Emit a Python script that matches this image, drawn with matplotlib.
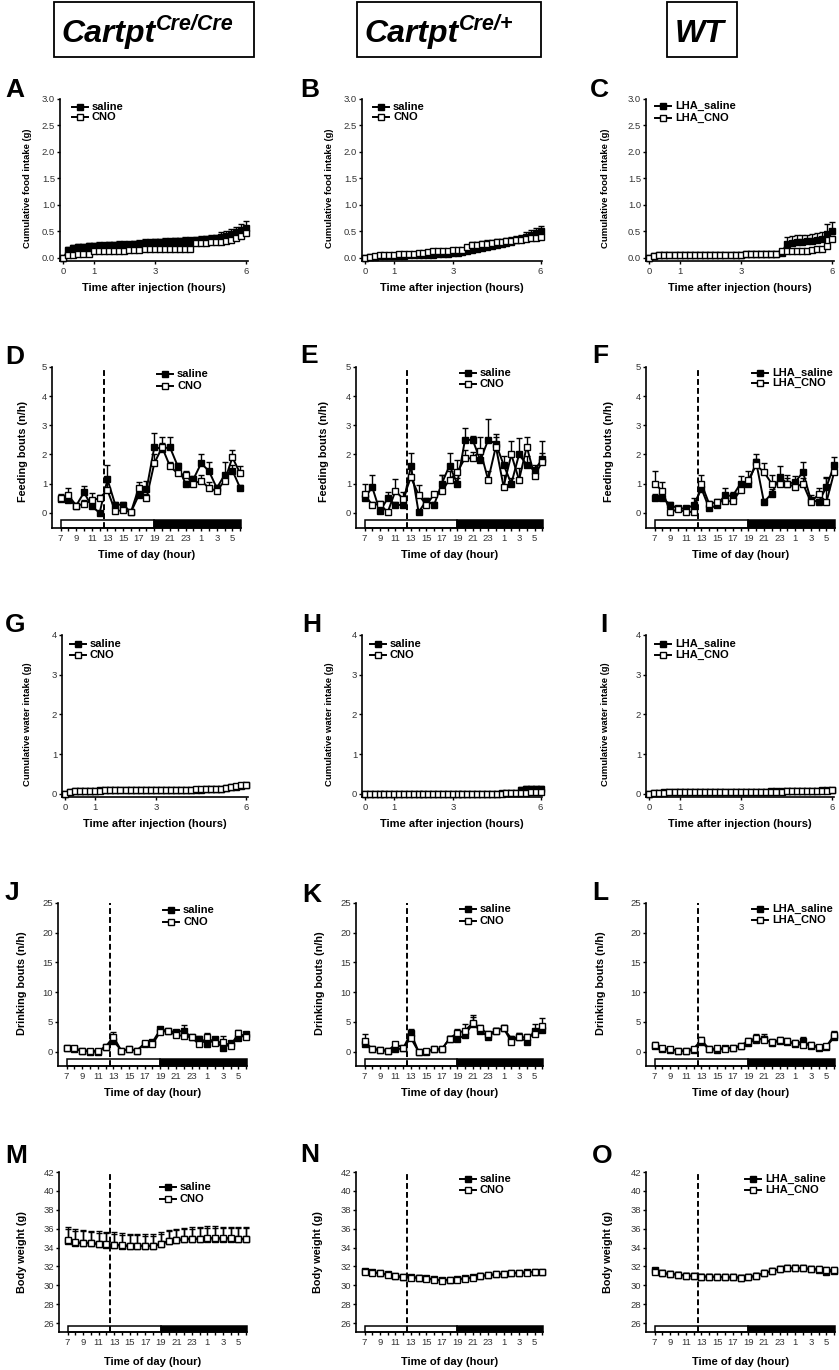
import numpy as np
import matplotlib
matplotlib.use('Agg')
import matplotlib.pyplot as plt
from matplotlib.patches import Rectangle
from matplotlib.lines import Line2D

plt.rcParams['font.family'] = ['Liberation Sans', 'DejaVu Sans']

# ---------------- data ----------------
cum_minutes = list(range(0, 361, 10))          # sampling grid, 0..6 h
hours = list(range(7, 31))                     # 7:00 .. 6:00 next day
hour_ticks = list(range(7, 31))
hour_labels = ['7', '', '9', '', '11', '', '13', '', '15', '', '17', '', '19', '',
               '21', '', '23', '', '1', '', '3', '', '5', '']

A_sal = [0, 0.15, 0.18, 0.20, 0.21, 0.22, 0.22, 0.23, 0.23, 0.24, 0.24, 0.25, 0.25, 0.25, 0.26, 0.27,
         0.28, 0.28, 0.29, 0.29, 0.30, 0.30, 0.31, 0.31, 0.32, 0.32, 0.33, 0.34, 0.35, 0.36, 0.37,
         0.40, 0.42, 0.45, 0.48, 0.52, 0.56]
A_sal_err = [0, 0.06, 0.06, 0.06, 0.06, 0.06, 0.06, 0.06, 0.06, 0.06, 0.06, 0.06, 0.06, 0.06, 0.06, 0.06,
             0.07, 0.07, 0.07, 0.07, 0.07, 0.07, 0.07, 0.07, 0.07, 0.07, 0.07, 0.07, 0.07, 0.07, 0.07,
             0.08, 0.08, 0.09, 0.10, 0.11, 0.13]
A_cno = [0, 0.05, 0.06, 0.07, 0.07, 0.07, 0.13, 0.13, 0.13, 0.13, 0.13, 0.13, 0.13, 0.14, 0.14, 0.14,
         0.16, 0.16, 0.16, 0.16, 0.16, 0.17, 0.17, 0.17, 0.17, 0.17, 0.28, 0.28, 0.28, 0.29, 0.30,
         0.30, 0.31, 0.33, 0.37, 0.42, 0.47]
A_cno_err = [0, 0.07, 0.08, 0.08, 0.08, 0.08, 0.08, 0.08, 0.08, 0.08, 0.08, 0.08, 0.08, 0.08, 0.08, 0.08,
             0.08, 0.08, 0.08, 0.08, 0.08, 0.08, 0.08, 0.08, 0.08, 0.08, 0.08, 0.08, 0.08, 0.08, 0.08,
             0.08, 0.08, 0.08, 0.08, 0.09, 0.09]

B_sal = [0, 0.01, 0.02, 0.03, 0.03, 0.04, 0.04, 0.04, 0.04, 0.05, 0.05, 0.05, 0.05, 0.06, 0.06, 0.07,
         0.07, 0.08, 0.09, 0.10, 0.11, 0.13, 0.15, 0.17, 0.19, 0.20, 0.22, 0.24, 0.26, 0.28, 0.30,
         0.33, 0.36, 0.40, 0.43, 0.46, 0.50]
B_sal_err = [0, 0.01, 0.01, 0.02, 0.02, 0.02, 0.02, 0.02, 0.02, 0.02, 0.02, 0.02, 0.03, 0.03, 0.03, 0.03,
             0.03, 0.03, 0.04, 0.04, 0.04, 0.05, 0.05, 0.05, 0.06, 0.06, 0.06, 0.06, 0.07, 0.07, 0.07,
             0.08, 0.08, 0.08, 0.09, 0.10, 0.10]
B_cno = [0, 0.02, 0.04, 0.05, 0.06, 0.06, 0.06, 0.07, 0.07, 0.07, 0.08, 0.09, 0.10, 0.11, 0.12, 0.12,
         0.13, 0.13, 0.14, 0.14, 0.15, 0.20, 0.24, 0.25, 0.26, 0.27, 0.28, 0.29, 0.30, 0.31, 0.32,
         0.33, 0.34, 0.36, 0.37, 0.38, 0.40]
B_cno_err = [0, 0.01, 0.02, 0.02, 0.02, 0.02, 0.02, 0.02, 0.02, 0.03, 0.03, 0.03, 0.03, 0.03, 0.03, 0.03,
             0.04, 0.04, 0.04, 0.04, 0.04, 0.05, 0.05, 0.05, 0.05, 0.06, 0.06, 0.06, 0.06, 0.07, 0.07,
             0.07, 0.08, 0.08, 0.09, 0.10, 0.10]

C_sal = [0, 0.04, 0.06, 0.06, 0.06, 0.06, 0.06, 0.06, 0.06, 0.06, 0.06, 0.06, 0.06, 0.06, 0.06, 0.06,
         0.06, 0.06, 0.06, 0.08, 0.08, 0.08, 0.08, 0.08, 0.08, 0.08, 0.10, 0.27, 0.28, 0.30, 0.30,
         0.31, 0.32, 0.33, 0.35, 0.45, 0.50]
C_sal_err = [0, 0.01, 0.01, 0.01, 0.01, 0.01, 0.01, 0.01, 0.01, 0.01, 0.01, 0.01, 0.01, 0.01, 0.01, 0.01,
             0.01, 0.01, 0.01, 0.02, 0.02, 0.02, 0.02, 0.02, 0.02, 0.02, 0.03, 0.12, 0.13, 0.13, 0.13,
             0.13, 0.13, 0.13, 0.13, 0.18, 0.18]
C_cno = [0, 0.03, 0.06, 0.06, 0.06, 0.06, 0.06, 0.06, 0.06, 0.06, 0.06, 0.06, 0.06, 0.06, 0.06, 0.06,
         0.06, 0.06, 0.06, 0.08, 0.08, 0.08, 0.08, 0.08, 0.08, 0.08, 0.12, 0.12, 0.12, 0.12, 0.12,
         0.12, 0.14, 0.16, 0.17, 0.22, 0.35]
C_cno_err = [0, 0.01, 0.01, 0.01, 0.01, 0.01, 0.01, 0.01, 0.01, 0.01, 0.01, 0.01, 0.01, 0.01, 0.01, 0.01,
             0.01, 0.01, 0.01, 0.01, 0.01, 0.01, 0.01, 0.01, 0.01, 0.01, 0.02, 0.02, 0.02, 0.02, 0.02,
             0.02, 0.03, 0.03, 0.04, 0.05, 0.06]

G_sal = [0, 0.05, 0.06, 0.07, 0.08, 0.08, 0.08, 0.09, 0.09, 0.09, 0.09, 0.09, 0.09, 0.09, 0.09, 0.09,
         0.09, 0.09, 0.09, 0.10, 0.10, 0.10, 0.10, 0.10, 0.10, 0.10, 0.10, 0.10, 0.11, 0.11, 0.12,
         0.13, 0.14, 0.16, 0.18, 0.20, 0.22]
G_sal_err = [0, 0.02, 0.02, 0.02, 0.02, 0.02, 0.02, 0.02, 0.02, 0.02, 0.02, 0.02, 0.02, 0.02, 0.02, 0.02,
             0.02, 0.02, 0.02, 0.02, 0.02, 0.02, 0.02, 0.02, 0.02, 0.02, 0.02, 0.02, 0.03, 0.03, 0.03,
             0.03, 0.03, 0.04, 0.04, 0.05, 0.06]
G_cno = [0, 0.04, 0.06, 0.07, 0.07, 0.08, 0.08, 0.08, 0.09, 0.09, 0.09, 0.09, 0.09, 0.09, 0.09, 0.09,
         0.09, 0.09, 0.10, 0.10, 0.10, 0.10, 0.10, 0.10, 0.10, 0.10, 0.11, 0.11, 0.11, 0.12, 0.12,
         0.13, 0.15, 0.17, 0.19, 0.21, 0.23]
G_cno_err = [0, 0.02, 0.02, 0.02, 0.02, 0.02, 0.02, 0.02, 0.02, 0.02, 0.02, 0.02, 0.02, 0.02, 0.02, 0.02,
             0.02, 0.02, 0.02, 0.02, 0.02, 0.02, 0.02, 0.02, 0.02, 0.02, 0.02, 0.02, 0.02, 0.03, 0.03,
             0.03, 0.03, 0.03, 0.04, 0.04, 0.05]

H_sal = [0, 0, 0, 0, 0, 0, 0, 0, 0, 0, 0, 0, 0, 0, 0, 0,
         0, 0, 0, 0, 0, 0, 0, 0, 0, 0, 0, 0, 0.01, 0.01, 0.01,
         0.02, 0.10, 0.12, 0.12, 0.12, 0.12]
H_sal_err = [0, 0, 0, 0, 0, 0, 0, 0, 0, 0, 0, 0, 0, 0, 0, 0,
             0, 0, 0, 0, 0, 0, 0, 0, 0, 0, 0, 0, 0.01, 0.01, 0.01,
             0.01, 0.06, 0.07, 0.07, 0.07, 0.07]
H_cno = [0, 0, 0, 0, 0, 0, 0, 0, 0, 0, 0, 0, 0, 0, 0, 0,
         0, 0, 0, 0, 0, 0, 0, 0, 0, 0, 0, 0, 0, 0.01, 0.01,
         0.01, 0.02, 0.03, 0.04, 0.05, 0.05]
H_cno_err = [0, 0, 0, 0, 0, 0, 0, 0, 0, 0, 0, 0, 0, 0, 0, 0,
             0, 0, 0, 0, 0, 0, 0, 0, 0, 0, 0, 0, 0, 0.01, 0.01,
             0.01, 0.01, 0.02, 0.02, 0.03, 0.03]

I_sal = [0, 0.02, 0.03, 0.04, 0.04, 0.04, 0.05, 0.05, 0.05, 0.05, 0.05, 0.05, 0.05, 0.05, 0.05, 0.05,
         0.05, 0.05, 0.05, 0.05, 0.05, 0.05, 0.05, 0.05, 0.06, 0.06, 0.06, 0.06, 0.06, 0.07, 0.07,
         0.07, 0.08, 0.08, 0.09, 0.09, 0.10]
I_sal_err = [0, 0.01, 0.01, 0.01, 0.01, 0.01, 0.01, 0.01, 0.01, 0.01, 0.01, 0.01, 0.01, 0.01, 0.01, 0.01,
             0.01, 0.01, 0.01, 0.01, 0.01, 0.01, 0.01, 0.01, 0.02, 0.02, 0.02, 0.02, 0.02, 0.02, 0.02,
             0.02, 0.03, 0.03, 0.03, 0.04, 0.05]
I_cno = [0, 0.02, 0.03, 0.03, 0.04, 0.04, 0.04, 0.04, 0.04, 0.04, 0.05, 0.05, 0.05, 0.05, 0.05, 0.05,
         0.05, 0.05, 0.05, 0.05, 0.05, 0.05, 0.05, 0.05, 0.05, 0.05, 0.05, 0.06, 0.06, 0.06, 0.06,
         0.06, 0.07, 0.07, 0.08, 0.08, 0.09]
I_cno_err = [0, 0.01, 0.01, 0.01, 0.01, 0.01, 0.01, 0.01, 0.01, 0.01, 0.01, 0.01, 0.01, 0.01, 0.01, 0.01,
             0.01, 0.01, 0.01, 0.01, 0.01, 0.01, 0.01, 0.01, 0.01, 0.01, 0.01, 0.02, 0.02, 0.02, 0.02,
             0.02, 0.02, 0.02, 0.03, 0.03, 0.04]

D_sal = [0.48, 0.45, 0.25, 0.70, 0.22, 0.00, 1.15, 0.28, 0.28, 0.02, 0.60, 0.80,
         2.25, 2.20, 2.25, 1.60, 1.00, 1.15, 1.70, 1.43, 0.85, 1.30, 1.45, 0.85]
D_sal_err = [0.15, 0.10, 0.05, 0.22, 0.15, 0.05, 0.50, 0.10, 0.08, 0.05, 0.15, 0.30,
             0.50, 0.20, 0.35, 0.10, 0.10, 0.10, 0.30, 0.32, 0.10, 0.45, 0.20, 0.10]
D_cno = [0.50, 0.60, 0.25, 0.30, 0.43, 0.50, 0.78, 0.05, 0.10, 0.02, 0.85, 0.50,
         1.70, 2.25, 1.60, 1.35, 1.30, 1.00, 1.10, 0.85, 0.75, 1.10, 1.90, 1.35]
D_cno_err = [0.12, 0.25, 0.08, 0.15, 0.25, 0.12, 0.30, 0.05, 0.05, 0.02, 0.20, 0.15,
             0.30, 0.35, 0.15, 0.10, 0.15, 0.10, 0.20, 0.20, 0.10, 0.20, 0.25, 0.25]

E_sal = [0.50, 0.88, 0.05, 0.50, 0.27, 0.27, 1.62, 0.02, 0.42, 0.27, 1.00, 1.62,
         1.00, 2.50, 2.50, 1.80, 2.50, 2.37, 1.65, 1.00, 2.00, 1.65, 1.45, 1.85]
E_sal_err = [0.20, 0.40, 0.05, 0.20, 0.10, 0.10, 0.43, 0.05, 0.10, 0.10, 0.30, 0.43,
             0.20, 0.40, 0.15, 0.30, 0.70, 0.33, 0.30, 0.20, 0.55, 0.30, 0.20, 0.60]
E_cno = [0.63, 0.27, 0.30, 0.02, 0.75, 0.48, 1.22, 0.62, 0.27, 0.63, 0.75, 1.13,
         1.40, 1.87, 1.87, 2.13, 1.13, 2.27, 0.90, 2.00, 1.13, 2.27, 1.27, 1.75]
E_cno_err = [0.37, 0.10, 0.10, 0.05, 0.40, 0.22, 0.30, 0.33, 0.10, 0.10, 0.55, 0.30,
             0.40, 0.30, 0.20, 0.47, 0.30, 0.33, 0.40, 0.45, 0.40, 0.33, 0.30, 0.30]

F_sal = [0.50, 0.50, 0.28, 0.15, 0.15, 0.26, 0.83, 0.15, 0.26, 0.60, 0.58, 1.00,
         1.00, 1.74, 0.37, 0.66, 1.23, 1.00, 1.05, 1.40, 0.45, 0.37, 0.88, 1.65]
F_sal_err = [0.15, 0.15, 0.10, 0.05, 0.05, 0.24, 0.20, 0.05, 0.10, 0.25, 0.15, 0.25,
             0.20, 0.26, 0.10, 0.15, 0.37, 0.20, 0.20, 0.33, 0.15, 0.10, 0.30, 0.25]
F_cno = [1.00, 0.75, 0.03, 0.12, 0.03, 0.03, 1.00, 0.30, 0.38, 0.40, 0.40, 0.77,
         1.13, 1.63, 1.40, 1.00, 1.00, 1.00, 0.88, 1.00, 0.37, 0.63, 0.37, 1.40]
F_cno_err = [0.45, 0.30, 0.05, 0.05, 0.05, 0.05, 0.30, 0.10, 0.10, 0.10, 0.15, 0.20,
             0.32, 0.20, 0.30, 0.30, 0.30, 0.30, 0.20, 0.20, 0.15, 0.22, 0.85, 0.20]

J_sal = [0.55, 0.40, 0.20, 0.00, 0.00, 0.85, 1.85, 0.20, 0.40, 0.20, 1.30, 1.60,
         3.75, 3.50, 3.30, 3.55, 2.40, 2.20, 1.25, 2.10, 0.55, 1.40, 2.25, 2.95]
J_sal_err = [0.3, 0.3, 0.1, 0.1, 0.1, 0.3, 0.6, 0.1, 0.1, 0.1, 0.3, 0.3,
             0.4, 0.3, 0.4, 0.95, 0.4, 0.4, 0.3, 0.4, 0.3, 0.4, 0.4, 0.4]
J_cno = [0.55, 0.55, 0.20, 0.20, 0.10, 0.85, 2.50, 0.20, 0.40, 0.20, 1.40, 1.30,
         3.35, 3.50, 2.80, 2.65, 2.40, 1.25, 2.40, 1.50, 1.70, 1.00, 3.10, 2.50]
J_cno_err = [0.45, 0.3, 0.1, 0.1, 0.1, 0.3, 0.8, 0.1, 0.1, 0.1, 0.3, 0.3,
             0.55, 0.3, 0.4, 0.4, 0.4, 0.3, 0.7, 0.4, 0.9, 0.3, 0.5, 0.4]

K_sal = [1.25, 0.40, 0.35, 0.10, 0.40, 0.55, 3.15, 0.00, 0.00, 0.40, 0.40, 2.20,
         2.10, 2.80, 4.70, 3.55, 2.50, 3.55, 3.95, 2.20, 2.50, 1.70, 3.55, 3.65]
K_sal_err = [0.5, 0.2, 0.2, 0.1, 0.3, 0.3, 0.6, 0.05, 0.05, 0.2, 0.2, 0.4,
             0.5, 0.6, 1.5, 0.5, 0.5, 0.5, 0.5, 0.5, 0.6, 0.5, 1.05, 0.8]
K_cno = [1.85, 0.40, 0.35, 0.10, 1.25, 0.70, 2.30, 0.00, 0.10, 0.40, 0.40, 2.20,
         3.15, 3.55, 4.80, 3.95, 2.95, 3.55, 3.95, 1.70, 2.50, 2.40, 2.95, 4.40]
K_cno_err = [1.15, 0.2, 0.2, 0.1, 0.4, 0.3, 0.5, 0.05, 0.1, 0.2, 0.2, 0.5,
             0.6, 1.05, 1.0, 0.5, 0.6, 0.5, 0.4, 0.5, 0.6, 0.6, 0.7, 1.3]

L_sal = [1.0, 0.5, 0.3, 0.2, 0.1, 0.3, 1.6, 0.4, 0.3, 0.6, 0.6, 0.9,
         1.5, 2.0, 2.2, 1.5, 1.8, 1.6, 1.3, 1.8, 1.0, 0.7, 0.8, 2.5]
L_sal_err = [0.3, 0.2, 0.1, 0.1, 0.1, 0.2, 0.5, 0.2, 0.2, 0.3, 0.3, 0.3,
             0.5, 0.6, 0.8, 0.5, 0.5, 0.5, 0.5, 0.6, 0.4, 0.3, 0.4, 0.8]
L_cno = [1.2, 0.6, 0.4, 0.2, 0.2, 0.5, 2.0, 0.4, 0.6, 0.5, 0.7, 1.0,
         1.8, 2.3, 2.0, 1.6, 2.0, 1.8, 1.4, 1.1, 1.2, 0.8, 0.9, 2.8]
L_cno_err = [0.4, 0.2, 0.1, 0.1, 0.1, 0.2, 0.5, 0.2, 0.2, 0.2, 0.3, 0.3,
             0.5, 0.6, 0.6, 0.5, 0.5, 0.5, 0.5, 0.4, 0.4, 0.3, 0.4, 0.7]

M_sal = [34.70, 34.50, 34.45, 34.45, 34.35, 34.30, 34.25, 34.20, 34.15, 34.15, 34.15, 34.15,
         34.35, 34.65, 34.75, 34.85, 34.90, 34.90, 34.95, 34.95, 34.95, 34.95, 34.90, 34.85]
M_sal_err = [1.25, 1.25, 1.25, 1.2, 1.2, 1.2, 1.2, 1.15, 1.15, 1.15, 1.1, 1.1,
             1.1, 1.1, 1.1, 1.1, 1.1, 1.15, 1.15, 1.15, 1.1, 1.1, 1.15, 1.2]
M_cno = [34.78, 34.56, 34.50, 34.50, 34.40, 34.35, 34.30, 34.25, 34.20, 34.20, 34.20, 34.20,
         34.40, 34.70, 34.80, 34.90, 34.95, 34.95, 35.00, 35.00, 34.98, 35.00, 34.95, 34.90]
M_cno_err = [1.35, 1.35, 1.35, 1.3, 1.3, 1.3, 1.3, 1.25, 1.25, 1.25, 1.2, 1.2,
             1.2, 1.2, 1.2, 1.2, 1.2, 1.25, 1.25, 1.25, 1.2, 1.2, 1.25, 1.3]

N_sal = [31.50, 31.40, 31.28, 31.15, 31.00, 30.90, 30.85, 30.82, 30.72, 30.62, 30.52, 30.58,
         30.65, 30.75, 30.85, 31.00, 31.08, 31.18, 31.22, 31.28, 31.32, 31.38, 31.42, 31.45]
N_sal_err = [0.2, 0.2, 0.2, 0.2, 0.2, 0.2, 0.2, 0.2, 0.2, 0.2, 0.2, 0.2,
             0.2, 0.2, 0.2, 0.2, 0.2, 0.2, 0.2, 0.2, 0.2, 0.2, 0.2, 0.2]
N_cno = [31.45, 31.35, 31.25, 31.10, 30.95, 30.85, 30.80, 30.80, 30.70, 30.60, 30.50, 30.55,
         30.60, 30.70, 30.80, 31.00, 31.05, 31.15, 31.20, 31.25, 31.30, 31.35, 31.40, 31.40]
N_cno_err = [0.25, 0.25, 0.25, 0.25, 0.25, 0.25, 0.25, 0.25, 0.25, 0.25, 0.25, 0.25,
             0.25, 0.25, 0.25, 0.25, 0.25, 0.25, 0.25, 0.25, 0.25, 0.25, 0.25, 0.25]

O_sal = [31.62, 31.30, 31.20, 31.12, 31.02, 30.98, 30.92, 30.90, 30.88, 30.84, 30.84, 30.82,
         30.84, 31.00, 31.25, 31.50, 31.70, 31.80, 31.85, 31.78, 31.72, 31.62, 31.45, 31.50]
O_sal_err = [0.25, 0.25, 0.25, 0.25, 0.25, 0.25, 0.25, 0.25, 0.25, 0.25, 0.25, 0.25,
             0.25, 0.25, 0.25, 0.25, 0.25, 0.25, 0.25, 0.25, 0.25, 0.25, 0.25, 0.25]
O_cno = [31.45, 31.27, 31.20, 31.13, 31.03, 31.00, 30.92, 30.92, 30.90, 30.85, 30.85, 30.82,
         30.85, 31.03, 31.27, 31.52, 31.70, 31.80, 31.87, 31.80, 31.77, 31.70, 31.63, 31.63]
O_cno_err = [0.3, 0.3, 0.3, 0.3, 0.3, 0.3, 0.3, 0.3, 0.3, 0.3, 0.3, 0.3,
             0.3, 0.3, 0.3, 0.3, 0.3, 0.3, 0.3, 0.3, 0.3, 0.3, 0.3, 0.3]

labels_std = ['saline', 'CNO']
labels_wt = ['LHA_saline', 'LHA_CNO']

# ---------------- figure helpers ----------------
W, H = 839, 1370
fig = plt.figure(figsize=(W / 100, H / 100), dpi=100)


def fx(x):
    return x / W


def fy(y):
    return 1 - y / H


def px_axes(l, t, r, b):
    return fig.add_axes([l / W, 1 - b / H, (r - l) / W, (b - t) / H])


def style(ax):
    for s in ['top', 'right']:
        ax.spines[s].set_visible(False)
    for s in ['left', 'bottom']:
        ax.spines[s].set_linewidth(1.2)
    ax.tick_params(axis='both', length=2.5, width=1.0, labelsize=6.8,
                   labelcolor='#333333', pad=1.0)
    ax.tick_params(axis='x', pad=1.5)
    ax.patch.set_alpha(0)


def series(ax, x, y, e, filled, ms, lw=1.4):
    fc = 'black' if filled else 'white'
    e = np.asarray(e, dtype=float)
    ax.errorbar(x, y, yerr=[np.zeros(len(e)), e], fmt='none', ecolor='black',
                elinewidth=1.0, capsize=ms * 0.5, capthick=1.0, clip_on=False, zorder=3)
    ax.plot(x, y, '-', color='black', lw=lw, marker='s', ms=ms, mfc=fc, mec='black',
            mew=1.0, clip_on=False, zorder=4)


def legend(x0, ys, labels, ms):
    for y, lab, filled in zip(ys, labels, [True, False]):
        fig.add_artist(Line2D([fx(x0), fx(x0 + 16)], [fy(y), fy(y)], color='black', lw=1.4))
        fig.add_artist(Line2D([fx(x0 + 8)], [fy(y)], marker='s', ms=ms,
                              mfc='black' if filled else 'white', mec='black', mew=1.0))
        fig.text(fx(x0 + 20), fy(y), lab, fontsize=8, fontweight='bold', va='center', ha='left')


def ylab(x, y, text, size):
    fig.text(fx(x), fy(y), text, rotation=90, ha='center', va='center',
             fontsize=size, fontweight='bold')


def xlab(x, y, text):
    fig.text(fx(x), fy(y), text, ha='center', va='center', fontsize=8, fontweight='bold')


def letter(x, y, ch):
    fig.text(fx(x), fy(y), ch, fontsize=19, fontweight='bold', ha='left', va='baseline')


cum_x = [m / 60 for m in cum_minutes]


def cum_panel(box, ylim, yticks, fmt, sal, sal_e, cno, cno_e, labels, leg_x, leg_y,
              ylabel, ylx, yly, xly):
    l, t, r, b = box
    ax = px_axes(l, t, r, b)
    style(ax)
    ax.set_xlim(-0.1, 6.05)
    ax.set_ylim(*ylim)
    ax.set_xticks([0, 1, 3, 6])
    ax.set_xticklabels(['0', '1', '3', '6'])
    ax.set_yticks(yticks)
    ax.set_yticklabels([fmt % v for v in yticks])
    series(ax, cum_x, sal, sal_e, True, 3.8, lw=1.2)
    series(ax, cum_x, cno, cno_e, False, 3.8, lw=1.2)
    legend(leg_x, leg_y, labels, 4.0)
    ylab(ylx, yly, ylabel, 6.8)
    xlab((l + r) / 2, xly, 'Time after injection (hours)')
    return ax


def tod_panel(box, ylim, yticks, bar_top, sal, sal_e, cno, cno_e, labels, leg_x, leg_y,
              ylabel, ylx, yly, xly, ms):
    l, t, r, b = box
    ax = px_axes(l, t, r, b)
    style(ax)
    x0, x1 = 5.9, 30.1
    ax.set_xlim(x0, x1)
    ax.set_ylim(*ylim)
    ax.set_xticks(hour_ticks)
    ax.set_xticklabels(hour_labels)
    ax.set_yticks(yticks)
    ax.set_yticklabels([str(v) for v in yticks])
    yb = ylim[0]
    ax.add_patch(Rectangle((7, yb), 12, bar_top - yb, facecolor='white', edgecolor='black',
                           lw=1.1, zorder=2, clip_on=False))
    ax.add_patch(Rectangle((19, yb), x1 - 19, bar_top - yb, facecolor='black', edgecolor='black',
                           lw=1.1, zorder=2, clip_on=False))
    ax.plot([12.5, 12.5], [yb, ylim[1]], color='black', lw=1.4, ls=(0, (3, 1.6)), zorder=2.5)
    series(ax, hours, sal, sal_e, True, ms)
    series(ax, hours, cno, cno_e, False, ms)
    legend(leg_x, leg_y, labels, 4.4)
    ylab(ylx, yly, ylabel, 7.8)
    xlab((l + r) / 2, xly, 'Time of day (hour)')
    return ax


# ---------------- headers ----------------
renderer = fig.canvas.get_renderer()


def header(box, x, main, sup):
    l, t, r, b = box
    fig.add_artist(Rectangle((fx(l), fy(b)), (r - l) / W, (b - t) / H, transform=fig.transFigure,
                             facecolor='none', edgecolor='black', lw=1.3))
    t1 = fig.text(fx(x), fy(42), main, fontsize=23, fontweight='bold', fontstyle='italic',
                  ha='left', va='baseline')
    if sup:
        bb = t1.get_window_extent(renderer)
        fig.text(bb.x1 / W + 1 / W, fy(30), sup, fontsize=15.5, fontweight='bold',
                 fontstyle='italic', ha='left', va='baseline')


header((54, 2, 254, 57), 61, 'Cartpt', 'Cre/Cre')
header((357, 2, 541, 57), 364, 'Cartpt', 'Cre/+')
header((667, 2, 737, 57), 675, 'WT', None)

# ---------------- row 1: cumulative food ----------------
food_ticks = [0.0, 0.5, 1.0, 1.5, 2.0, 2.5, 3.0]
cum_panel((60, 99, 248, 261), (-0.06, 3.0), food_ticks, '%.1f', A_sal, A_sal_err, A_cno, A_cno_err,
          labels_std, 72, (107, 117), 'Cumulative food intake (g)', 28, 188, 288)
cum_panel((362, 99, 542, 261), (-0.06, 3.0), food_ticks, '%.1f', B_sal, B_sal_err, B_cno, B_cno_err,
          labels_std, 373, (107, 117), 'Cumulative food intake (g)', 330, 188, 288)
cum_panel((646, 99, 834, 261), (-0.06, 3.0), food_ticks, '%.1f', C_sal, C_sal_err, C_cno, C_cno_err,
          labels_wt, 655, (106, 118), 'Cumulative food intake (g)', 605, 188, 288)
letter(5, 97, 'A')
letter(300, 97, 'B')
letter(590, 97, 'C')

# ---------------- row 2: feeding bouts ----------------
fb_ticks = [0, 1, 2, 3, 4, 5]
tod_panel((52, 367, 241, 528), (-0.52, 5), fb_ticks, -0.24, D_sal, D_sal_err, D_cno, D_cno_err,
          labels_std, 157, (374, 386), 'Feeding bouts (n/h)', 23, 452, 555, 4.4)
tod_panel((356, 367, 543, 528), (-0.52, 5), fb_ticks, -0.24, E_sal, E_sal_err, E_cno, E_cno_err,
          labels_std, 460, (373, 384), 'Feeding bouts (n/h)', 324, 452, 555, 4.4)
tod_panel((646, 367, 835, 528), (-0.52, 5), fb_ticks, -0.24, F_sal, F_sal_err, F_cno, F_cno_err,
          labels_wt, 752, (373, 383), 'Feeding bouts (n/h)', 609, 452, 555, 4.4)
letter(5, 364, 'D')
letter(300, 363, 'E')
letter(592, 363, 'F')

# ---------------- row 3: cumulative water ----------------
water_ticks = [0, 1, 2, 3, 4]
cum_panel((62, 635, 248, 797), (-0.08, 4.0), water_ticks, '%d', G_sal, G_sal_err, G_cno, G_cno_err,
          labels_std, 70, (644, 655), 'Cumulative water intake (g)', 28, 724, 824)
cum_panel((362, 635, 542, 797), (-0.08, 4.0), water_ticks, '%d', H_sal, H_sal_err, H_cno, H_cno_err,
          labels_std, 370, (644, 655), 'Cumulative water intake (g)', 330, 724, 824)
cum_panel((646, 635, 834, 797), (-0.08, 4.0), water_ticks, '%d', I_sal, I_sal_err, I_cno, I_cno_err,
          labels_wt, 655, (644, 655), 'Cumulative water intake (g)', 605, 724, 824)
letter(5, 632, 'G')
letter(302, 632, 'H')
letter(600, 632, 'I')

# ---------------- row 4: drinking bouts ----------------
db_ticks = [0, 5, 10, 15, 20, 25]
tod_panel((58, 903, 247, 1066), (-2.4, 25), db_ticks, -1.2, J_sal, J_sal_err, J_cno, J_cno_err,
          labels_std, 163, (910, 922), 'Drinking bouts (n/h)', 22, 983, 1093, 4.4)
tod_panel((356, 903, 543, 1066), (-2.4, 25), db_ticks, -1.2, K_sal, K_sal_err, K_cno, K_cno_err,
          labels_std, 460, (909, 921), 'Drinking bouts (n/h)', 320, 983, 1093, 4.4)
tod_panel((646, 903, 835, 1066), (-2.4, 25), db_ticks, -1.2, L_sal, L_sal_err, L_cno, L_cno_err,
          labels_wt, 752, (909, 920), 'Drinking bouts (n/h)', 601, 983, 1093, 4.4)
letter(5, 900, 'J')
letter(302, 902, 'K')
letter(592, 900, 'L')

# ---------------- row 5: body weight ----------------
bw_ticks = [26, 28, 30, 32, 34, 36, 38, 40, 42]
tod_panel((59, 1172, 247, 1332), (25.05, 42), bw_ticks, 25.7, M_sal, M_sal_err, M_cno, M_cno_err,
          labels_std, 160, (1187, 1199), 'Body weight (g)', 22, 1252, 1362, 5.0)
tod_panel((356, 1172, 543, 1332), (25.05, 42), bw_ticks, 25.7, N_sal, N_sal_err, N_cno, N_cno_err,
          labels_std, 460, (1179, 1190), 'Body weight (g)', 318, 1252, 1362, 5.0)
tod_panel((646, 1172, 835, 1332), (25.05, 42), bw_ticks, 25.7, O_sal, O_sal_err, O_cno, O_cno_err,
          labels_wt, 745, (1179, 1190), 'Body weight (g)', 608, 1252, 1362, 5.0)
letter(5, 1163, 'M')
letter(300, 1162, 'N')
letter(592, 1163, 'O')

fig.savefig('out.png', dpi=100, facecolor='white')
